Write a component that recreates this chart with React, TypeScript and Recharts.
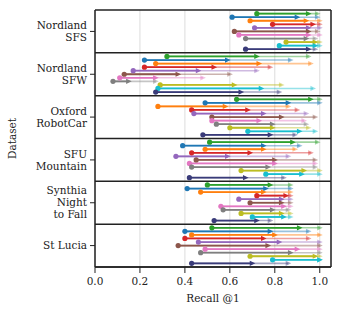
import React from 'react'
import {
  ScatterChart, Scatter, XAxis, YAxis, CartesianGrid, ReferenceLine, Label
} from 'recharts'

// dataset names, split into the lines shown on the y axis
const datasets = [
  ['Nordland', 'SFS'],
  ['Nordland', 'SFW'],
  ['Oxford', 'RobotCar'],
  ['SFU', 'Mountain'],
  ['Synthia', 'Night', 'to Fall'],
  ['St Lucia'],
]

// one colour per method, top row to bottom row inside each dataset
const methodColors = [
  '#2ca02c', '#1f77b4', '#ff7f0e', '#d62728', '#9467bd', '#8c564b',
  '#e377c2', '#7f7f7f', '#bcbd22', '#17becf', '#393b79',
]

// recall@1 per dataset (rows) and method (columns)
const startRecall = [
  [0.72, 0.61, 0.69, 0.79, 0.71, 0.62, 0.64, 0.67, 0.85, 0.82, 0.67],
  [0.32, 0.22, 0.27, 0.22, 0.17, 0.13, 0.11, 0.08, 0.29, 0.28, 0.27],
  [0.63, 0.49, 0.28, 0.43, 0.44, 0.52, 0.52, 0.54, 0.60, 0.68, 0.48],
  [0.51, 0.39, 0.49, 0.43, 0.36, 0.45, 0.42, 0.43, 0.65, 0.76, 0.42],
  [0.50, 0.41, 0.47, 0.72, 0.64, 0.69, 0.56, 0.57, 0.65, 0.70, 0.53],
  [0.52, 0.40, 0.43, 0.40, 0.46, 0.37, 0.49, 0.47, 0.69, 0.79, 0.43],
]
const midRecall = [
  [0.95, 0.90, 0.94, 0.97, 0.95, 0.95, 0.95, 0.94, 0.98, 0.98, 0.95],
  [0.72, 0.59, 0.73, 0.53, 0.46, 0.37, 0.27, 0.15, 0.62, 0.74, 0.65],
  [0.96, 0.86, 0.58, 0.68, 0.75, 0.83, 0.73, 0.79, 0.79, 0.91, 0.78],
  [0.88, 0.75, 0.75, 0.69, 0.59, 0.80, 0.80, 0.77, 0.93, 0.92, 0.67],
  [0.78, 0.76, 0.75, 0.85, 0.83, 0.83, 0.84, 0.79, 0.83, 0.84, 0.72],
  [0.91, 0.78, 0.80, 0.75, 0.82, 0.77, 0.90, 0.87, 0.98, 1.00, 0.70],
]
const endRecall = [
  [0.99, 0.99, 1.00, 1.00, 1.00, 0.99, 1.00, 0.98, 1.00, 1.00, 0.98],
  [0.95, 0.87, 0.96, 0.78, 0.72, 0.60, 0.48, 0.27, 0.83, 0.97, 0.82],
  [1.00, 1.00, 0.86, 0.90, 0.94, 0.98, 0.93, 0.94, 0.95, 0.98, 0.89],
  [0.99, 0.91, 0.89, 0.96, 0.86, 0.98, 0.98, 0.98, 1.00, 1.00, 0.84],
  [0.87, 0.87, 0.87, 0.87, 0.87, 0.87, 0.87, 0.86, 0.87, 0.87, 0.78],
  [1.00, 0.95, 1.00, 0.95, 1.00, 1.00, 1.00, 1.00, 1.00, 1.00, 0.86],
]

const xTicks = [0, 0.2, 0.4, 0.6, 0.8, 1.0]
const yTicks = datasets.map((_, i) => i + 0.5)

// vertical slot of a method inside its dataset band
const rowY = (d: number, m: number) => d + 0.5 + (m - 5) * 0.083

const FONT = '"DejaVu Serif", serif'

const DatasetTick = (props: any) => {
  const { x, y, payload } = props
  const lines = datasets[Math.floor(payload.value)]
  const lh = 12
  const y0 = y - ((lines.length - 1) * lh) / 2
  return (
    <text x={x} y={y0} textAnchor="end" fontSize={10.5} fontFamily={FONT} fill="#222">
      {lines.map((l, i) => (
        <tspan key={i} x={x} y={y0 + i * lh} dy="0.35em">{l}</tspan>
      ))}
    </text>
  )
}

const DotShape = (props: any) => (
  <circle cx={props.cx} cy={props.cy} r={2.6} fill={props.fill} />
)
const arrow = (opacity: number) => (props: any) => {
  const { cx, cy, fill } = props
  return (
    <polygon
      points={`${cx - 2.6},${cy - 2.6} ${cx + 3},${cy} ${cx - 2.6},${cy + 2.6}`}
      fill={fill}
      fillOpacity={opacity}
    />
  )
}
const LightArrow = arrow(0.45)
const SolidArrow = arrow(1)

const pts = (vals: number[][], m: number) =>
  datasets.map((_, d) => ({ x: vals[d][m], y: rowY(d, m) }))

export default function App() {
  return (
    <div style={{ position: 'absolute', left: 0, top: 0, width: 341, height: 316, background: '#fff' }}>
      <ScatterChart
        width={341}
        height={316}
        margin={{ top: 10, right: 10, bottom: 19, left: 0 }}
        style={{ fontFamily: FONT }}
      >
        <CartesianGrid horizontal={false} stroke="#dcdcdc" />
        <XAxis
          type="number"
          dataKey="x"
          domain={[0, 1.05]}
          ticks={xTicks}
          allowDataOverflow
          tickFormatter={(v: number) => v.toFixed(1)}
          height={30}
          tickSize={6}
          tickMargin={5}
          tick={{ fontSize: 10.5, fill: '#222', fontFamily: FONT }}
          axisLine={{ stroke: '#222', strokeWidth: 1.5 }}
          tickLine={{ stroke: '#222' }}
        >
          <Label value="Recall @1" position="insideBottom" offset={-5} fontSize={10.5} fill="#222" fontFamily={FONT} />
        </XAxis>
        <YAxis
          type="number"
          dataKey="y"
          domain={[0, 6]}
          reversed
          ticks={yTicks}
          interval={0}
          allowDataOverflow
          width={95}
          tickSize={5}
          tickMargin={3}
          tick={<DatasetTick />}
          axisLine={{ stroke: '#222', strokeWidth: 1.5 }}
          tickLine={{ stroke: '#222' }}
        >
          <Label value="Dataset" angle={-90} position="insideLeft" offset={12} fontSize={10.5} fill="#222" fontFamily={FONT} style={{ textAnchor: 'middle' }} />
        </YAxis>

        {[0, 1, 2, 3, 4, 5, 6].map((k) => (
          <ReferenceLine key={'sep' + k} y={k} stroke="#222" strokeWidth={1.5} />
        ))}
        <ReferenceLine x={1.05} stroke="#222" strokeWidth={1.5} />

        {datasets.map((_, d) =>
          methodColors.map((c, m) => (
            <ReferenceLine
              key={`l${d}-${m}`}
              segment={[{ x: startRecall[d][m], y: rowY(d, m) }, { x: endRecall[d][m], y: rowY(d, m) }]}
              stroke={c}
              strokeOpacity={0.45}
              strokeWidth={1.6}
            />
          ))
        )}
        {datasets.map((_, d) =>
          methodColors.map((c, m) => (
            <ReferenceLine
              key={`s${d}-${m}`}
              segment={[{ x: startRecall[d][m], y: rowY(d, m) }, { x: midRecall[d][m], y: rowY(d, m) }]}
              stroke={c}
              strokeWidth={1.8}
            />
          ))
        )}

        {methodColors.map((c, m) => (
          <Scatter key={'e' + m} data={pts(endRecall, m)} fill={c} shape={LightArrow} isAnimationActive={false} />
        ))}
        {methodColors.map((c, m) => (
          <Scatter key={'m' + m} data={pts(midRecall, m)} fill={c} shape={SolidArrow} isAnimationActive={false} />
        ))}
        {methodColors.map((c, m) => (
          <Scatter key={'d' + m} data={pts(startRecall, m)} fill={c} shape={DotShape} isAnimationActive={false} />
        ))}
      </ScatterChart>
    </div>
  )
}
